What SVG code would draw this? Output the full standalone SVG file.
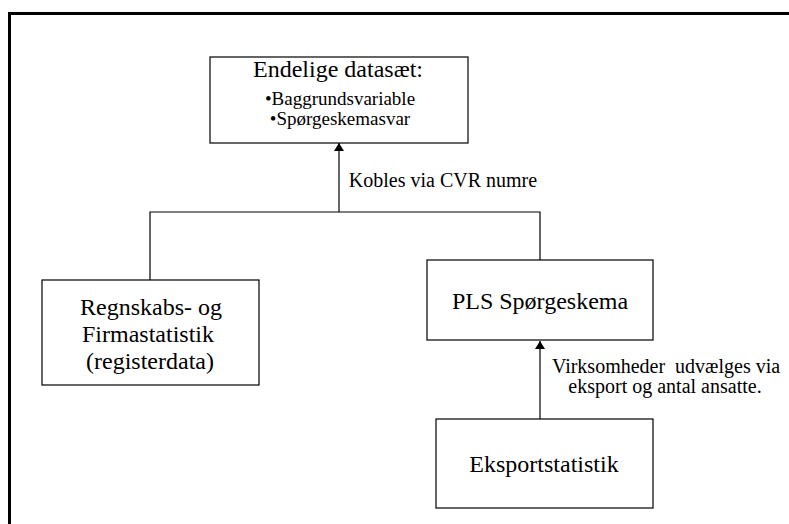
<svg xmlns="http://www.w3.org/2000/svg" width="789" height="524" viewBox="0 0 789 524">
<style>
.box{fill:#fff;stroke:#000;stroke-width:1.2}
.t{font-family:"Liberation Serif","Times New Roman",Times,serif;fill:#000;text-anchor:middle;white-space:pre}
.big{font-size:24px}
.sm{font-size:20px}
.bl{font-size:19px}
.ln{fill:none;stroke:#000;stroke-width:1.2}
.frame{fill:none;stroke:#000;stroke-width:3}
</style>
<defs>
<marker id="ah" viewBox="0 0 8 10" refX="8" refY="5" markerWidth="8" markerHeight="10" markerUnits="userSpaceOnUse" orient="auto">
<path d="M0,0 L8,5 L0,10 Z" fill="#000"/>
</marker>
</defs>
<rect width="789" height="524" fill="#fff"/>
<path class="frame" d="M9.5,524 V13.5 H789"/>
<g id="connectors">
<path class="ln" d="M150,280 V212 H540 V260"/>
<path class="ln" d="M339,212 V143" marker-end="url(#ah)"/>
<path class="ln" d="M540,419 V341" marker-end="url(#ah)"/>
<text class="t sm" x="443" y="187">Kobles via CVR numre</text>
<text class="t sm" x="666" y="373" xml:space="preserve">Virksomheder  udvælges via</text>
<text class="t sm" x="665" y="393">eksport og antal ansatte.</text>
</g>
<g id="endelige">
<rect class="box" x="210" y="57" width="258" height="86"/>
<text class="t big" x="338" y="77">Endelige datasæt:</text>
<text class="t bl" x="340" y="105">•Baggrundsvariable</text>
<text class="t bl" x="340" y="125">•Spørgeskemasvar</text>
</g>
<g id="regnskab">
<rect class="box" x="42" y="280" width="217" height="105"/>
<text class="t big" x="151" y="315">Regnskabs- og</text>
<text class="t big" x="148" y="342">Firmastatistik</text>
<text class="t big" x="150" y="369">(registerdata)</text>
</g>
<g id="pls">
<rect class="box" x="427" y="260" width="226" height="80"/>
<text class="t big" x="540" y="309">PLS Spørgeskema</text>
</g>
<g id="eksport">
<rect class="box" x="436" y="419" width="217" height="89"/>
<text class="t big" x="544" y="472">Eksportstatistik</text>
</g>
</svg>
